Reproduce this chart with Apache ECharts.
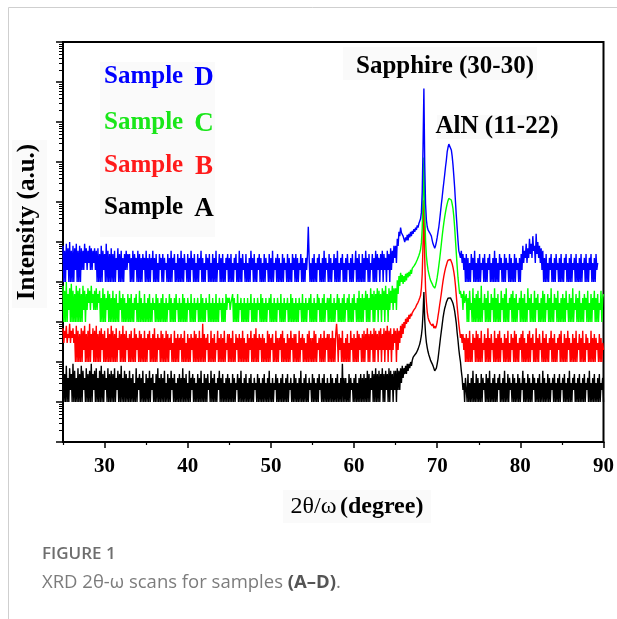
<!DOCTYPE html>
<html>
<head>
<meta charset="utf-8">
<script src="https://cdn.jsdelivr.net/npm/echarts@6/dist/echarts.min.js"></script>
<style>
  html, body { margin: 0; padding: 0; background: #fff; }
  #chart { width: 617px; height: 619px; }
</style>
</head>
<body>
<div id="chart"></div>
<script>
// XRD 2θ/ω scans, detector counts on a 0.1° step.
// Each scan is stored in three segments: background (25.0–64.9°),
// peak region (65.0–73.4°) and high-angle background (73.5° to the end).
const scanStep = 0.1;
const lowStart = 25.0, peakStart = 65.0, highStart = 73.5;

// Sample A
const lowA = [
  6,1,5,1,8,1,4,1,7,2,5,1,9,1,6,1,4,1,7,1,
  5,1,8,1,6,2,4,1,7,1,5,1,6,1,9,1,5,2,6,1,
  7,1,4,1,6,1,8,1,5,1,6,2,4,1,7,1,5,1,6,1,
  5,1,7,1,4,2,6,1,5,1,8,1,4,1,6,1,5,1,4,1,
  6,1,4,1,5,1,3,1,7,1,4,2,5,1,4,1,6,1,3,1,
  5,1,4,1,6,1,4,2,5,1,3,1,5,1,7,1,4,1,5,1,
  4,1,6,1,3,1,5,1,4,1,6,2,4,1,5,1,3,1,4,1,
  5,1,4,1,7,1,4,1,5,1,3,1,6,1,4,2,5,1,4,1,
  3,1,5,1,4,1,6,1,3,1,5,1,4,1,5,2,3,1,6,1,
  4,1,5,1,3,1,4,2,6,1,4,1,5,1,3,1,4,1,5,1,
  4,1,3,1,5,1,4,1,3,2,5,1,4,1,6,1,3,1,4,1,
  5,1,3,1,4,1,5,1,3,1,4,2,3,1,5,1,4,1,3,1,
  4,1,5,1,3,1,4,1,6,1,3,1,4,1,3,2,5,1,4,1,
  3,1,4,1,5,1,3,1,4,1,5,1,3,2,4,1,3,1,5,1,
  4,1,3,1,4,1,6,1,3,1,4,1,5,1,3,1,4,2,3,1,
  5,1,4,1,3,1,4,1,5,2,3,1,4,1,5,1,3,1,4,1,
  3,1,5,1,4,1,3,1,4,1,5,1,3,1,4,1,9,1,4,1,
  4,1,3,1,5,1,4,2,3,1,4,1,5,1,3,1,4,1,5,1,
  4,1,5,1,4,1,6,1,5,1,4,2,6,1,5,1,7,1,5,1,
  6,1,5,2,7,1,5,1,6,2,5,1,7,1,6,2,5,1,6,2
];
const peakA = [
  6,1,7,2,6,2,7,3,8,4,
  7,5,8,5,9,6,9,7,10,8,
  11,13,12,15,14,17,18,21,23,28,
  35,46,72,170,560,115,50,31,23,18,
  15,13,11,10,9,8,7,6,6,7,
  9,12,18,27,41,59,86,126,168,218,
  258,310,345,392,410,422,402,380,330,292,
  238,188,132,92,54,35,21,14,10,6,
  4,2,3,1,4
];
const highA = [
  4,1,5,1,3,1,4,1,6,1,3,1,5,1,4,
  1,3,1,5,1,4,2,3,1,5,1,4,1,6,1,3,1,4,1,5,
  1,3,1,4,2,5,1,3,1,4,1,6,1,3,1,5,1,4,2,3,
  1,5,1,4,1,3,1,5,1,4,1,3,2,6,1,4,1,3,1,5,
  1,4,1,3,1,5,2,4,1,3,1,4,1,5,1,3,1,6,1,4,
  1,3,1,5,1,4,1,3,2,4,1,5,1,3,1,4,1,5,1,3,
  2,4,1,5,1,3,1,4,1,6,1,3,1,4,2,5,1,3,1,4,
  1,5,1,3,1,4,1,5,1,3,2,4,1,6,1,3,1,4,1,5,
  1,3,1,4,1,5,1,3,2,4,1
];

// Sample B
const lowB = [
  7,3,6,4,8,3,5,4,9,3,6,4,7,3,5,1,8,1,6,1,
  5,1,7,1,6,2,8,1,5,1,6,1,9,1,5,2,7,1,6,1,
  8,1,5,1,6,1,7,2,5,1,6,1,4,1,7,1,5,1,8,1,
  6,1,5,1,7,1,4,2,6,1,5,1,8,1,5,1,6,2,4,1,
  5,1,6,1,4,1,7,1,5,2,4,1,6,1,5,1,4,1,6,1,
  4,1,5,2,6,1,4,1,5,1,7,1,4,1,5,2,4,1,6,1,
  5,1,4,1,6,1,5,1,4,2,5,1,3,1,6,1,4,1,5,1,
  4,2,5,1,4,1,6,1,3,1,5,1,4,1,5,2,4,1,6,1,
  5,1,4,1,6,1,4,1,9,1,5,1,4,2,5,1,3,1,6,1,
  4,1,5,1,3,2,6,1,4,1,5,1,4,1,6,1,3,2,5,1,
  5,1,4,1,6,1,3,1,5,2,4,1,5,1,4,1,6,1,4,1,
  3,1,5,1,4,2,6,1,4,1,5,1,7,1,4,1,5,2,4,1,
  5,1,4,1,3,1,6,1,5,1,4,2,5,1,3,1,6,1,4,1,
  4,2,5,1,6,1,4,1,3,1,5,1,4,1,6,2,4,1,5,1,
  5,1,3,1,6,1,4,2,5,1,4,1,3,1,5,1,6,1,4,1,
  4,1,6,1,5,1,3,2,4,1,5,1,4,1,6,1,4,2,5,1,
  5,1,4,1,6,1,4,1,5,9,4,1,5,2,4,1,6,1,3,1,
  4,1,5,1,3,1,6,2,4,1,5,1,4,1,6,1,5,2,4,1,
  5,1,6,1,5,2,7,1,5,1,6,2,5,1,7,1,6,2,5,1,
  6,2,7,1,5,2,7,1,6,2,8,1,6,2,7,1,5,2,7,3
];
const peakB = [
  6,1,7,2,6,3,8,4,9,5,
  10,7,12,9,13,10,15,12,16,14,
  17,19,20,22,23,26,28,31,35,40,
  46,70,160,900,11000,400,70,32,18,13,
  11,10,9,10,8,9,7,8,7,8,
  10,14,19,27,37,52,75,105,140,180,
  222,262,310,350,378,385,365,330,285,232,
  180,128,80,45,25,15,9,6,4,5,
  3,5,2,4,1
];
const highB = [
  5,1,4,1,6,1,3,1,5,2,4,1,6,1,5,
  1,4,1,6,1,3,2,5,1,4,1,7,1,4,1,5,2,3,1,6,
  1,4,1,5,1,6,1,4,2,3,1,5,1,4,1,6,1,3,1,5,
  2,4,1,6,1,5,1,3,1,4,2,5,1,6,1,4,1,3,1,5,
  1,6,1,4,2,5,1,3,1,7,1,4,1,5,2,3,1,6,1,4,
  1,5,1,3,1,4,2,6,1,4,1,5,1,3,1,4,2,5,1,6,
  1,3,1,5,1,4,1,6,2,4,1,3,1,5,1,4,1,6,1,3,
  2,5,1,4,1,6,1,3,1,5,2,4,1,3,1,6,1,4,1,5,
  1,4,2,3,1,5,1,4,1,3,2
];

// Sample C
const lowC = [
  8,1,6,1,10,1,5,2,7,1,9,1,6,1,5,1,8,1,6,1,
  7,1,5,1,8,2,6,1,5,2,7,3,6,2,8,3,5,2,6,2,
  7,2,5,3,6,1,4,1,7,1,5,1,4,2,6,1,5,1,4,1,
  6,1,4,1,5,1,3,1,6,2,4,1,5,1,4,1,3,1,5,1,
  4,1,5,1,3,1,4,2,5,1,3,1,6,1,4,1,3,1,5,1,
  3,1,4,1,5,1,3,1,4,2,3,1,5,1,4,1,3,1,4,1,
  5,1,3,1,4,1,3,2,5,1,4,1,3,1,4,1,5,2,3,1,
  4,1,3,1,5,1,4,1,3,1,4,2,3,1,5,1,3,1,4,1,
  3,2,4,1,3,1,5,1,4,1,3,1,4,2,3,1,5,1,3,1,
  4,1,3,1,5,1,3,1,4,2,3,1,4,1,3,1,5,2,4,3,
  4,2,3,3,5,1,4,1,3,1,5,1,3,2,4,1,3,1,4,1,
  3,1,4,1,3,2,5,1,3,1,4,1,3,1,4,2,3,1,5,1,
  4,1,3,1,4,1,3,2,4,1,5,1,3,1,4,1,3,1,4,2,
  3,1,5,1,3,1,4,1,3,2,4,1,3,1,5,1,4,1,3,1,
  4,1,3,1,4,2,3,1,5,1,3,1,4,1,3,2,4,1,5,1,
  3,1,4,1,3,1,5,2,4,1,3,1,4,1,5,1,3,2,4,1,
  4,1,5,1,3,1,4,1,3,2,5,1,4,1,3,1,4,1,5,1,
  3,2,4,1,5,1,3,1,4,1,5,2,3,1,4,1,6,1,4,1,
  5,1,4,2,6,1,5,1,4,1,7,2,5,1,6,1,5,2,7,1,
  6,2,5,1,7,2,6,1,8,2,5,1,7,2,6,3,8,2,7,3
];
const peakC = [
  7,2,11,5,14,8,17,10,15,9,
  14,10,16,11,17,13,18,14,20,16,
  22,21,25,27,29,32,36,40,46,54,
  65,95,220,1500,13000,600,110,45,28,20,
  16,13,11,10,9,8,8,7,8,10,
  13,18,26,38,58,90,140,210,300,420,
  560,720,900,1080,1230,1330,1270,1120,900,680,
  430,230,110,52,25,13,8,5,6,4,
  5,2,6,3,4
];
const highC = [
  5,1,4,1,6,2,3,1,7,1,4,1,5,1,6,
  1,4,1,8,1,3,2,5,1,4,1,6,1,3,1,5,2,4,1,7,
  1,4,1,5,1,3,1,6,2,4,1,5,1,7,1,3,1,4,2,5,
  1,6,1,4,1,5,1,3,2,4,1,6,1,4,1,5,1,3,1,7,
  2,4,1,5,1,3,1,6,1,4,2,5,1,3,1,4,1,6,1,5,
  1,3,2,5,1,4,1,7,1,3,1,5,2,4,1,6,1,3,1,4,
  1,5,1,4,1,6,2,3,1,5,1,4,1,7,1,3,2,5,1,4,
  1,6,1,3,1,4,1,5,2,4,1,6,1,3,1,5,1,4,2,6,
  1,4,1,5,1,3,2,6,1,4,5
];

// Sample D (scan stops at 89.3°)
const lowD = [
  8,1,6,1,9,2,7,1,10,1,6,1,8,1,7,2,9,1,6,1,
  8,1,7,2,6,2,9,3,7,2,6,3,8,2,7,2,6,3,7,2,
  6,1,7,1,5,1,8,1,6,2,5,1,9,1,6,1,5,1,7,1,
  5,1,6,1,4,2,7,1,5,1,6,1,4,1,5,2,6,2,5,3,
  5,1,4,1,6,1,5,2,4,1,6,1,5,1,4,1,5,2,4,1,
  6,1,4,1,5,1,4,2,6,1,4,1,5,1,3,1,5,2,4,1,
  5,1,4,2,3,1,5,1,4,1,6,1,4,2,5,1,3,1,5,1,
  4,1,6,1,4,1,5,2,3,1,5,1,4,1,6,2,4,1,5,1,
  3,1,5,1,4,2,6,1,4,1,3,1,5,2,4,1,5,1,3,1,
  5,1,4,1,6,1,3,2,5,1,4,1,5,1,3,1,4,2,5,1,
  4,1,5,1,3,1,4,2,5,1,3,1,6,1,4,1,5,2,3,1,
  5,1,3,1,4,1,6,2,4,1,5,1,3,1,4,2,5,1,4,1,
  3,1,5,1,4,2,3,1,5,1,4,1,6,1,3,2,4,1,5,1,
  4,1,3,1,5,1,4,2,3,1,5,1,4,1,3,1,5,2,4,1,
  5,1,4,1,3,2,5,1,4,1,3,1,4,2,5,24,4,1,3,1,
  4,1,5,1,3,1,4,2,5,1,3,1,4,1,6,1,4,2,3,1,
  5,1,4,1,3,2,5,1,4,1,6,1,3,1,4,2,5,1,3,1,
  4,1,5,2,3,1,4,1,5,1,3,2,6,1,4,1,5,1,3,1,
  5,1,4,1,6,2,4,1,5,1,3,2,5,1,4,1,6,1,5,2,
  4,1,5,2,6,1,5,2,4,1,6,2,5,1,7,2,6,3,8,4
];
const peakD = [
  8,3,12,8,18,14,23,17,19,14,
  14,10,13,11,15,11,16,13,18,14,
  19,16,21,18,23,20,26,23,29,28,
  38,55,180,2500,69000,900,90,36,24,20,
  18,17,16,14,11,9,8,7,8,10,
  13,18,24,36,56,88,133,210,316,480,
  750,1100,1780,2300,2800,2980,2500,2000,1400,850,
  450,230,100,45,22,11,6,5,4,6,
  3,5,2,4,1
];
const highD = [
  5,1,4,1,3,1,5,2,4,1,6,1,3,1,4,
  1,5,1,3,2,4,1,5,1,3,1,4,2,5,1,3,1,4,1,6,
  1,4,1,3,1,5,2,4,1,3,1,5,1,4,2,3,1,5,1,4,
  1,3,1,5,1,4,2,3,1,4,1,5,2,8,3,6,4,9,3,7,
  4,12,5,9,4,14,6,8,3,16,5,10,4,8,3,7,2,6,1,4,
  1,5,1,3,1,4,2,5,1,3,1,4,1,5,2,3,1,4,1,5,
  1,3,1,4,2,5,1,3,1,4,1,5,1,3,2,4,1,5,1,3,
  1,4,1,5,1,3,2,4,1,5,1,3,1,4,2,5,1,3,1,4,
  1,5,2,3
];

const sampleLetters = ['A', 'B', 'C', 'D'];
const sampleColors = ['#000000', '#ff0000', '#00ff00', '#0000ff'];
const labelColors = ['#000000', '#ff1a1a', '#19e619', '#0000ff'];
// Each trace is multiplied by a power of ten so the scans stack on the log axis
const stackFactors = [10, 100, 1000, 10000];
const scans = [
  [[lowStart, lowA], [peakStart, peakA], [highStart, highA]],
  [[lowStart, lowB], [peakStart, peakB], [highStart, highB]],
  [[lowStart, lowC], [peakStart, peakC], [highStart, highC]],
  [[lowStart, lowD], [peakStart, peakD], [highStart, highD]]
];

const xMajorTicks = [30, 40, 50, 60, 70, 80, 90];
const xMinorTicks = [25, 35, 45, 55, 65, 75, 85];
const yDecades = [1, 1e1, 1e2, 1e3, 1e4, 1e5, 1e6, 1e7, 1e8, 1e9, 1e10];

function toPoints(segments, factor) {
  const pts = [];
  segments.forEach(([start, vals]) => {
    vals.forEach((c, i) => {
      pts.push([+(start + i * scanStep).toFixed(2), c * factor]);
    });
  });
  return pts;
}

const yMinor = [];
for (let d = 0; d < 10; d++) {
  for (let m = 2; m <= 9; m++) yMinor.push(m * Math.pow(10, d));
}

const serif = '"Liberation Serif", "Times New Roman", serif';
const sans = '"Open Sans", sans-serif';
const GRID = { left: 63, right: 13, top: 42, bottom: 177 };

const chart = echarts.init(document.getElementById('chart'), null, { renderer: 'canvas' });

// draw order: D at the back, A in front
const series = [3, 2, 1, 0].map(k => ({
  type: 'line',
  name: 'Sample ' + sampleLetters[k],
  data: toPoints(scans[k], stackFactors[k]),
  showSymbol: false,
  symbol: 'none',
  lineStyle: { color: sampleColors[k], width: 1.4 },
  itemStyle: { color: sampleColors[k] },
  z: 2 + k,
  silent: true
}));

const sampleLabelY = [208, 166, 123, 77];
const boxFill = '#fafafa';
const graphics = [
  // page frame
  { type: 'line', shape: { x1: 8.5, y1: 7.5, x2: 617, y2: 7.5 }, style: { stroke: '#cfcfcf', lineWidth: 1 } },
  { type: 'line', shape: { x1: 8.5, y1: 7.5, x2: 8.5, y2: 619 }, style: { stroke: '#cfcfcf', lineWidth: 1 } },
  // light text boxes
  { type: 'rect', shape: { x: 12, y: 140, width: 35, height: 168 }, style: { fill: boxFill }, z: -1 },
  { type: 'rect', shape: { x: 100, y: 62, width: 115, height: 175 }, style: { fill: boxFill }, z: -1 },
  { type: 'rect', shape: { x: 343, y: 47, width: 194, height: 33 }, style: { fill: boxFill }, z: -1 },
  { type: 'rect', shape: { x: 437, y: 115, width: 123, height: 24 }, style: { fill: boxFill }, z: -1 },
  { type: 'rect', shape: { x: 283, y: 490, width: 148, height: 33 }, style: { fill: boxFill }, z: -1 },
  // y title
  {
    type: 'text', x: 28, y: 222, rotation: Math.PI / 2,
    style: { text: 'Intensity (a.u.)', fill: '#000', font: 'bold 25px ' + serif, align: 'center', verticalAlign: 'middle' }
  },
  // x title
  {
    type: 'text', x: 357, y: 507,
    style: {
      text: '{r|2θ/ω} {b|(degree)}', align: 'center', verticalAlign: 'middle',
      rich: {
        r: { fontFamily: serif, fontSize: 24, fontWeight: 'normal', fill: '#000' },
        b: { fontFamily: serif, fontSize: 24, fontWeight: 'bold', fill: '#000' }
      }
    }
  },
  // peak labels
  {
    type: 'text', x: 445, y: 67,
    style: { text: 'Sapphire (30-30)', fill: '#000', font: 'bold 25px ' + serif, align: 'center', verticalAlign: 'middle' }
  },
  {
    type: 'text', x: 497, y: 127,
    style: { text: 'AlN (11-22)', fill: '#000', font: 'bold 25px ' + serif, align: 'center', verticalAlign: 'middle' }
  },
  // caption
  {
    type: 'text', x: 42, y: 554,
    style: { text: 'FIGURE 1', fill: '#6e6e6e', font: '600 17px ' + sans, align: 'left', verticalAlign: 'middle' }
  },
  {
    type: 'text', x: 42, y: 583,
    style: {
      text: '{n|XRD 2θ-ω scans for samples }{b|(A–D)}{n|.}', align: 'left', verticalAlign: 'middle',
      rich: {
        n: { fontFamily: sans, fontSize: 18.5, fontWeight: 'normal', fill: '#7c7c7c' },
        b: { fontFamily: sans, fontSize: 18.5, fontWeight: 'bold', fill: '#555555' }
      }
    }
  }
];
sampleLetters.forEach((L, k) => {
  graphics.push({
    type: 'text', x: 104, y: sampleLabelY[k],
    style: { text: 'Sample', fill: labelColors[k], font: 'bold 25px ' + serif, align: 'left', verticalAlign: 'middle' }
  });
  graphics.push({
    type: 'text', x: 204, y: sampleLabelY[k] + 1,
    style: { text: L, fill: labelColors[k], font: 'bold 27px ' + serif, align: 'center', verticalAlign: 'middle' }
  });
});

chart.setOption({
  animation: false,
  backgroundColor: '#ffffff',
  grid: Object.assign({ show: true, borderColor: '#000', borderWidth: 2, backgroundColor: 'transparent' }, GRID),
  xAxis: [
    {
      type: 'value', min: 25, max: 90, position: 'bottom',
      axisLine: { lineStyle: { color: '#000', width: 2 } },
      axisTick: { length: 6, lineStyle: { color: '#000', width: 1.5 }, customValues: xMajorTicks },
      axisLabel: { customValues: xMajorTicks, color: '#000', fontFamily: serif, fontWeight: 'bold', fontSize: 21, margin: 14 },
      splitLine: { show: false }
    },
    {
      type: 'value', min: 25, max: 90, position: 'bottom', offset: 0,
      axisLine: { show: false },
      axisTick: { length: 3, lineStyle: { color: '#000', width: 1.2 }, customValues: xMinorTicks },
      axisLabel: { show: false },
      splitLine: { show: false }
    }
  ],
  yAxis: [
    {
      type: 'log', logBase: 10, min: 1, max: 1e10, position: 'left',
      axisLine: { show: true, lineStyle: { color: '#000', width: 2 } },
      axisTick: { show: true, length: 7, lineStyle: { color: '#000', width: 1.5 }, customValues: yDecades },
      axisLabel: { show: false },
      splitLine: { show: false },
      minorTick: { show: false }
    },
    {
      type: 'log', logBase: 10, min: 1, max: 1e10, position: 'left', offset: 0,
      axisLine: { show: false },
      axisTick: { show: true, length: 4, lineStyle: { color: '#000', width: 1 }, customValues: yMinor },
      axisLabel: { show: false },
      splitLine: { show: false }
    }
  ],
  series: series,
  graphic: graphics
});
</script>
</body>
</html>
